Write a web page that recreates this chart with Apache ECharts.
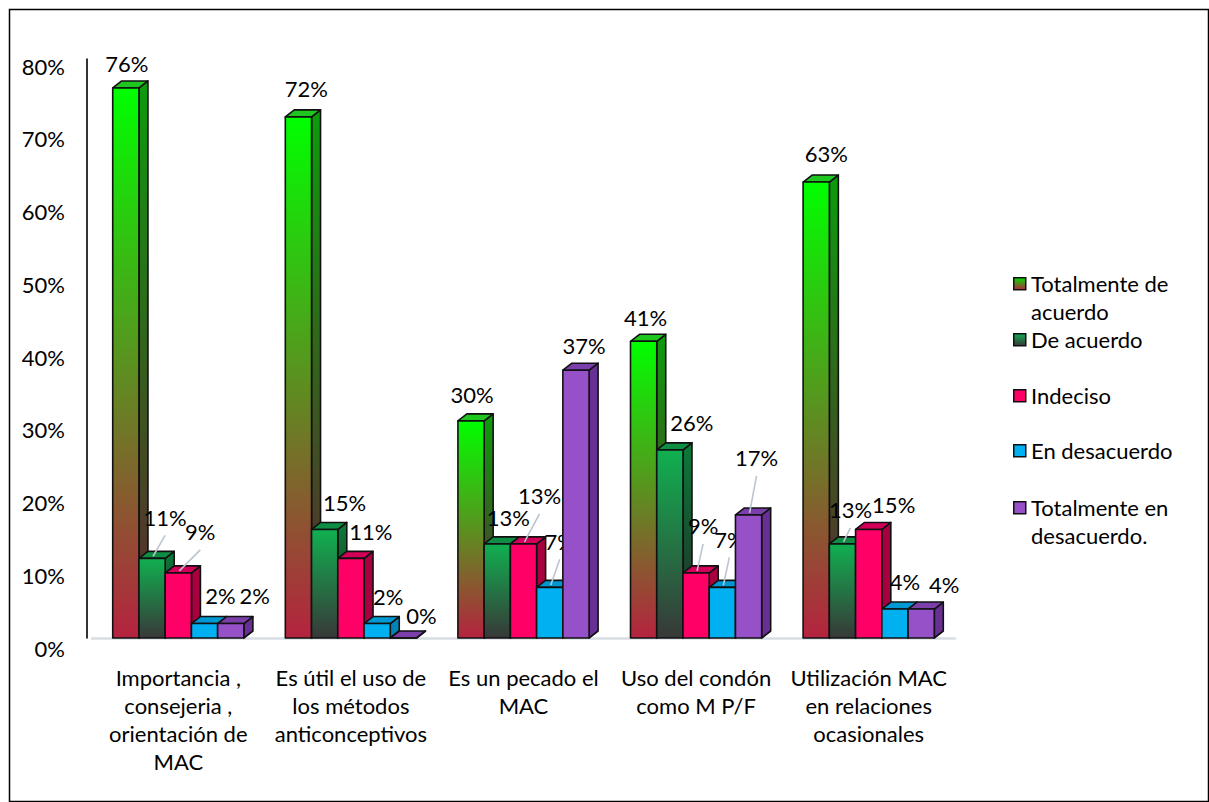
<!DOCTYPE html>
<html><head><meta charset="utf-8">
<script src="https://cdn.jsdelivr.net/npm/echarts@6/dist/echarts.min.js"></script>
<style>html,body{margin:0;padding:0;background:#fff}#c{width:1209px;height:802px}</style>
</head><body><div id="c"></div>
<script>
// ---- data ----
const categories = [
  "Importancia ,\nconsejeria ,\norientación de\nMAC",
  "Es útil el uso de\nlos métodos\nanticonceptivos",
  "Es un pecado el\nMAC",
  "Uso del condón\ncomo M P/F",
  "Utilización MAC\nen relaciones\nocasionales"
];
const seriesNames = ["Totalmente de acuerdo", "De acuerdo", "Indeciso", "En desacuerdo", "Totalmente en desacuerdo."];
const legendLabels = ["Totalmente de\nacuerdo", "De acuerdo", "Indeciso", "En desacuerdo", "Totalmente en\ndesacuerdo."];
const totalmenteDeAcuerdo = [76, 72, 30, 41, 63];
const deAcuerdo = [11, 15, 13, 26, 13];
const indeciso = [9, 11, 13, 9, 15];
const enDesacuerdo = [2, 2, 7, 7, 4];
const totalmenteEnDesacuerdo = [2, 0, 37, 17, 4];
const yTickValues = [0, 10, 20, 30, 40, 50, 60, 70, 80];
const allSeries = [totalmenteDeAcuerdo, deAcuerdo, indeciso, enDesacuerdo, totalmenteEnDesacuerdo];

// ---- styles ----
const FONT = 'Lato, "Open Sans", sans-serif';
const FS = 22;
const LG = (a, b) => new echarts.graphic.LinearGradient(0, 0, 0, 1, [{offset: 0, color: a}, {offset: 1, color: b}]);
const FACE = [
  {front: () => LG('#00FF00', '#B5233F'), side: () => LG('#0C9C0C', '#5E2430'), top: '#1FC61F', legend: () => LG('#00E000', '#B5233F')},
  {front: () => LG('#10B050', '#383838'), side: () => LG('#0B7A3A', '#252525'), top: '#0D8E43', legend: () => LG('#10B050', '#383838')},
  {front: () => '#FF0066', side: () => '#A8003F', top: '#D3005A', legend: () => '#FF0066'},
  {front: () => '#00B0F0', side: () => '#0084B6', top: '#0098D2', legend: () => '#00B0F0'},
  {front: () => '#9650C8', side: () => '#683094', top: '#7B3FAB', legend: () => '#9650C8'}
];
const DX = 9, DY = 7, BAR_RATIO = 0.152;
// label placement relative to the top-centre of each bar's front face: [dx, dy, leaderLine]
const LABEL_NUDGE = [
  [[1, -24], [8, -28], [1, -26], [2, -24], [10, -29]],
  [[13, -41, 1], [20, -27], [11, -26], [22, -27], [8, -34, 1]],
  [[22, -41, 1], [20, -27], [16, -48, 1], [7, -47, 1], [25, -25]],
  [[16, -28], [11, -27], [10, -46, 1], [7, -48, 1], [10, -28]],
  [[24, -28], [18, -23], [8, -25], [8, -57, 1], [23, -25]]
];

function makeRender(si) {
  return function (params, api) {
    const ci = api.value(0), v = api.value(1);
    const band = api.size([1, 0])[0];
    const bw = band * BAR_RATIO;
    const base = api.coord([ci, 0]);
    const yb = base[1];
    const yt = api.coord([ci, v])[1];
    const x0 = base[0] - bw * 2.5 + si * bw;
    const x1 = x0 + bw;
    const st = {stroke: '#111', lineWidth: 1.6, lineJoin: 'round'};
    const f = FACE[si];
    const children = [
      {type: 'polygon', shape: {points: [[x1, yt], [x1 + DX, yt - DY], [x1 + DX, yb - DY], [x1, yb]]}, style: Object.assign({fill: f.side()}, st)},
      {type: 'polygon', shape: {points: [[x0, yt], [x0 + DX, yt - DY], [x1 + DX, yt - DY], [x1, yt]]}, style: Object.assign({fill: f.top}, st)},
      {type: 'rect', shape: {x: x0, y: yt, width: bw, height: yb - yt}, style: Object.assign({fill: f.front()}, st)}
    ];
    const nd = LABEL_NUDGE[si][ci];
    const cx = x0 + bw / 2;
    const lx = cx + nd[0], ly = yt + nd[1];
    if (nd[2]) {
      children.push({type: 'line', shape: {x1: lx, y1: ly + 18, x2: cx + 1, y2: yt - 2}, style: {stroke: '#BCC4D0', lineWidth: 1.6}});
    }
    children.push({type: 'text', style: {text: v + '%', x: lx, y: ly, align: 'center', verticalAlign: 'middle', fill: '#000', font: FS + 'px ' + FONT}});
    return {type: 'group', children: children};
  };
}

const chart = echarts.init(document.getElementById('c'), null, {renderer: 'svg'});

const legendGraphics = [];
const legendY = [283, 339, 395, 450, 507];
legendLabels.forEach((t, i) => {
  legendGraphics.push({type: 'rect', left: 1013, top: legendY[i] - 6, shape: {width: 12, height: 12}, style: {fill: FACE[i].legend(), stroke: '#111', lineWidth: 1.5}});
  legendGraphics.push({type: 'text', left: 1031, top: legendY[i] - 14, style: {text: t, fill: '#000', font: FS + 'px ' + FONT, lineHeight: 28}});
});

chart.setOption({
  animation: false,
  backgroundColor: '#fff',
  grid: [
    {left: 92, right: 254, top: 59, bottom: 164},
    {left: 92, right: 254, top: 66, bottom: 154}
  ],
  xAxis: [
    {type: 'category', gridIndex: 0, data: categories, offset: 6,
     axisLine: {show: true, lineStyle: {color: '#D9DEE4', width: 2.5}},
     axisTick: {show: false},
     axisLabel: {interval: 0, margin: 19, color: '#000', fontFamily: FONT, fontSize: FS, lineHeight: 28, align: 'center'}},
    {type: 'category', gridIndex: 1, data: categories, show: false}
  ],
  yAxis: [
    {type: 'value', gridIndex: 0, min: 0, max: 80, interval: 10, offset: 5,
     axisLine: {show: true, lineStyle: {color: '#000', width: 1.6}},
     axisTick: {show: false}, axisLabel: {show: false}, splitLine: {show: false}},
    {type: 'value', gridIndex: 1, min: yTickValues[0], max: yTickValues[yTickValues.length - 1], interval: 10,
     axisLine: {show: false}, axisTick: {show: false}, splitLine: {show: false},
     axisLabel: {margin: 27, color: '#000', fontFamily: FONT, fontSize: FS, formatter: '{value}%'}}
  ],
  series: allSeries.map((arr, si) => ({
    name: seriesNames[si],
    type: 'custom',
    xAxisIndex: 0, yAxisIndex: 0,
    renderItem: makeRender(si),
    encode: {x: 0, y: 1},
    clip: false,
    data: arr.map((v, ci) => [ci, v])
  })),
  graphic: [
    {type: 'rect', left: 7, top: 7, shape: {width: 1199, height: 792}, style: {fill: 'none', stroke: '#000', lineWidth: 1.5}, z: -1},
    ...legendGraphics
  ]
});
</script>
</body></html>
